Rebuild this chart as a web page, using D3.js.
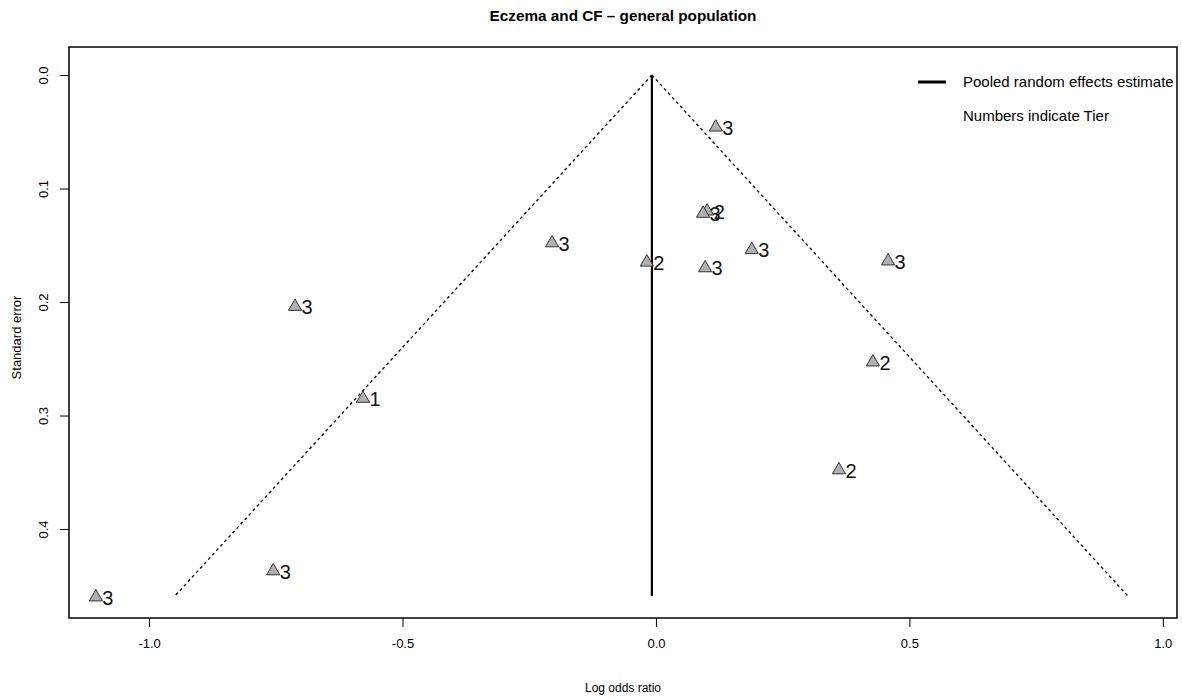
<!DOCTYPE html>
<html>
<head>
<meta charset="utf-8">
<script src="https://cdn.jsdelivr.net/npm/d3@7"></script>
<style>
  html, body { margin: 0; padding: 0; background: #fff; }
  svg { display: block; font-family: "Liberation Sans", Arial, sans-serif; }
</style>
</head>
<body>
<svg id="chart" width="1182" height="698"></svg>
<script>
// ---- Data ----
const logOdds = [0.118, 0.101, 0.093, -0.205, -0.018, 0.097, 0.189, 0.458, -0.712, -0.578, 0.428, 0.361, -0.755, -1.105];
const stdErr  = [0.046, 0.120, 0.122, 0.148, 0.165, 0.170, 0.154, 0.164, 0.204, 0.285, 0.253, 0.348, 0.437, 0.460];
const tiers   = ["3", "2", "3", "3", "2", "3", "3", "3", "3", "1", "2", "2", "3", "3"];
const pooledEstimate = -0.008;
const funnelSEMax = 0.459;
const funnelLeftX = -0.949;
const funnelRightX = 0.931;
const xTicks = [-1.0, -0.5, 0.0, 0.5, 1.0];
const yTicks = [0.0, 0.1, 0.2, 0.3, 0.4];
const legendLabels = ["Pooled random effects estimate", "Numbers indicate Tier"];
const titleText = "Eczema and CF \u2013 general population";
const xLabel = "Log odds ratio";
const yLabel = "Standard error";

// ---- Layout ----
const svg = d3.select("#chart");
const box = { left: 69, right: 1177, top: 47, bottom: 618 };

const x = d3.scaleLinear().domain([-1.158, 1.028]).range([box.left, box.right]);
const y = d3.scaleLinear().domain([-0.0247, 0.4784]).range([box.top, box.bottom]);

const fmt = v => d3.format(".1f")(v).replace("\u2212", "-");

// Title
svg.append("text")
  .attr("x", (box.left + box.right) / 2)
  .attr("y", 21)
  .attr("text-anchor", "middle")
  .attr("font-weight", "bold")
  .attr("font-size", 15)
  .attr("transform", `translate(${(box.left + box.right) / 2},0) scale(1.02,1) translate(${-(box.left + box.right) / 2},0)`)
  .text(titleText);

// X axis
const xAxis = d3.axisBottom(x).tickValues(xTicks).tickFormat(fmt).tickSize(9).tickPadding(12);
const gx = svg.append("g").attr("transform", `translate(0,${box.bottom})`).call(xAxis);
gx.select(".domain").remove();
gx.selectAll(".tick line").attr("stroke", "#000").attr("stroke-width", 1);
gx.selectAll(".tick text")
  .attr("font-size", 13)
  .attr("fill", "#000");

// Y axis
const yAxis = d3.axisLeft(y).tickValues(yTicks).tickFormat(fmt).tickSize(9);
const gy = svg.append("g").attr("transform", `translate(${box.left},0)`).call(yAxis);
gy.select(".domain").remove();
gy.selectAll(".tick line").attr("stroke", "#000").attr("stroke-width", 1);
gy.selectAll(".tick text")
  .attr("font-size", 13)
  .attr("fill", "#000")
  .attr("x", 0).attr("dy", null)
  .attr("text-anchor", "middle")
  .attr("transform", "translate(-24,0) rotate(-90)")
  .attr("dominant-baseline", "middle");

// Axis titles
svg.append("text")
  .attr("x", (box.left + box.right) / 2)
  .attr("y", 692)
  .attr("text-anchor", "middle")
  .attr("font-size", 12)
  .text(xLabel);

svg.append("text")
  .attr("transform", `translate(21,${(box.top + box.bottom) / 2 + 5}) rotate(-90)`)
  .attr("text-anchor", "middle")
  .attr("font-size", 13)
  .text(yLabel);

// Plot box
svg.append("rect")
  .attr("x", box.left).attr("y", box.top)
  .attr("width", box.right - box.left).attr("height", box.bottom - box.top)
  .attr("fill", "none").attr("stroke", "#000").attr("stroke-width", 1.5);

// Funnel lines
const funnel = [
  [[pooledEstimate, 0], [funnelLeftX, funnelSEMax]],
  [[pooledEstimate, 0], [funnelRightX, funnelSEMax]]
];
const line = d3.line().x(d => x(d[0])).y(d => y(d[1]));
svg.selectAll(".funnel").data(funnel).enter().append("path")
  .attr("class", "funnel")
  .attr("d", line)
  .attr("fill", "none")
  .attr("stroke", "#000")
  .attr("stroke-width", 1.3)
  .attr("stroke-dasharray", "3,3");

// Pooled estimate line
svg.append("path")
  .attr("d", line([[pooledEstimate, 0], [pooledEstimate, funnelSEMax]]))
  .attr("stroke", "#000")
  .attr("stroke-width", 2.2)
  .attr("fill", "none");

// Points
const pts = logOdds.map((v, i) => ({ x: v, se: stdErr[i], tier: tiers[i] }));
const tri = d3.symbol().type(d3.symbolTriangle).size(75);
const gp = svg.append("g");
gp.selectAll("path.pt").data(pts).enter().append("path")
  .attr("class", "pt")
  .attr("d", tri)
  .attr("transform", d => `translate(${x(d.x)},${y(d.se)})`)
  .attr("fill", "#b0b0b0")
  .attr("stroke", "#333")
  .attr("stroke-width", 1);
gp.selectAll("text.lab").data(pts).enter().append("text")
  .attr("class", "lab")
  .attr("x", d => x(d.x) + 6.5)
  .attr("y", d => y(d.se) + 7.5)
  .attr("font-size", 20)
  .attr("fill", "#111")
  .text(d => d.tier);

// Legend
const lg = svg.append("g");
lg.append("line")
  .attr("x1", 918).attr("x2", 946).attr("y1", 82).attr("y2", 82)
  .attr("stroke", "#000").attr("stroke-width", 3);
lg.selectAll("text").data(legendLabels).enter().append("text")
  .attr("x", 963)
  .attr("y", (d, i) => 87 + i * 34)
  .attr("font-size", 15)
  .attr("fill", "#000")
  .text(d => d);
</script>
</body>
</html>
